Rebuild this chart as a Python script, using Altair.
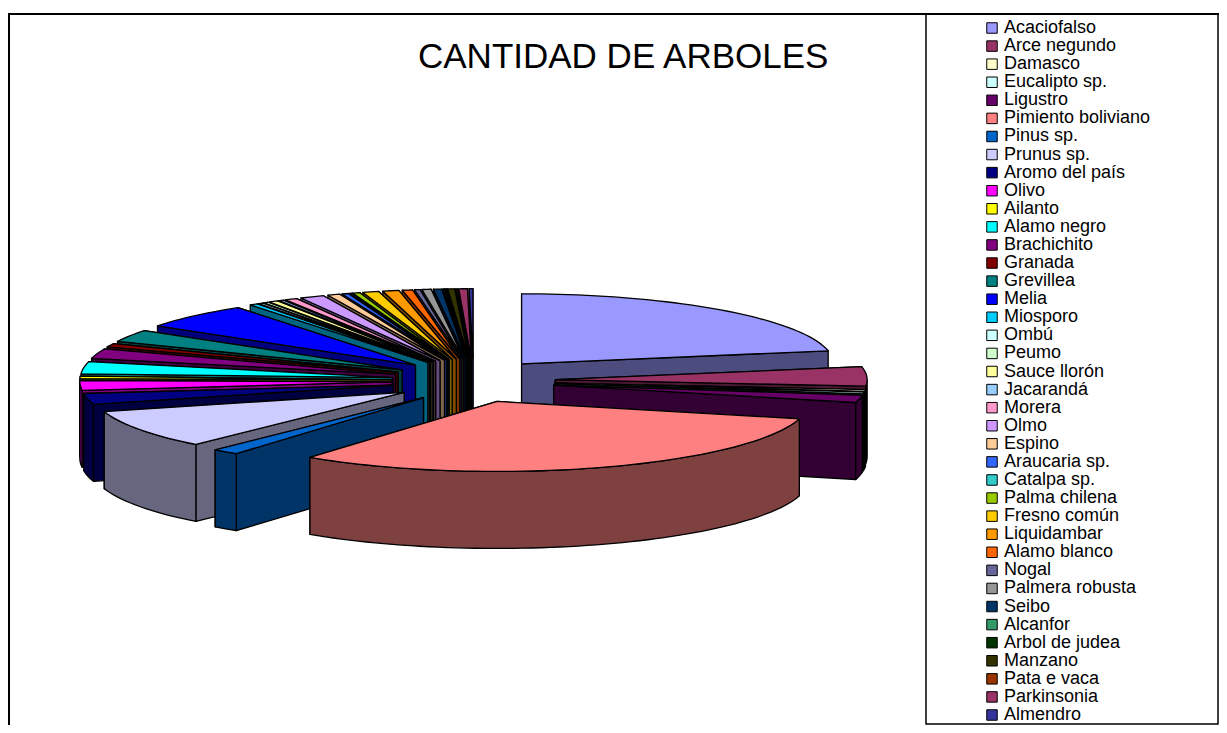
import math
import altair as alt
import pandas as pd

especies = ["Acaciofalso","Arce negundo","Damasco","Eucalipto sp.","Ligustro","Pimiento boliviano","Pinus sp.","Prunus sp.",
            "Aromo del país","Olivo","Ailanto","Alamo negro","Brachichito","Granada","Grevillea","Melia","Miosporo","Ombú",
            "Peumo","Sauce llorón","Jacarandá","Morera","Olmo","Espino","Araucaria sp.","Catalpa sp.","Palma chilena",
            "Fresno común","Liquidambar","Alamo blanco","Nogal","Palmera robusta","Seibo","Alcanfor","Arbol de judea",
            "Manzano","Pata e vaca","Parkinsonia","Almendro"]
cantidad = [21.94,4.44,0.42,0.42,1.67,31.11,1.39,8.89,2.5,2.22,0.56,2.78,2.22,0.83,2.78,5.83,0.42,0.25,
            0.25,0.47,0.25,0.64,1.25,0.64,0.33,0.11,0.39,0.83,0.83,0.53,0.28,0.47,0.42,0.08,0.08,0.36,0.08,0.44,0.2]
colores = ["#9999FF","#993366","#FFFFCC","#CCFFFF","#660066","#FF8080","#0066CC","#CCCCFF","#000080","#FF00FF","#FFFF00",
           "#00FFFF","#800080","#800000","#008080","#0000FF","#00CCFF","#CCFFFF","#CCFFCC","#FFFF99","#99CCFF","#FF99CC",
           "#CC99FF","#FFCC99","#3366FF","#33CCCC","#99CC00","#FFCC00","#FF9900","#FF6600","#666699","#969696","#003366",
           "#339966","#003300","#333300","#993300","#993366","#333399"]

W, H = 1211, 717
CX, CY, RX, RY = 465.5, 372.7, 312.0, 70.0
EX, EY, DEPTH = 0.262, 0.314, 77 / 70
# slight sideways correction of the two largest and the narrow near slices (in radii)
AJUSTE = {"Acaciofalso": -0.013, "Pimiento boliviano": -0.011, "Pinus sp.": 0.006}


def dark(c):
    v = [int(c[i:i + 2], 16) // 2 for i in (1, 3, 5)]
    return "#%02x%02x%02x" % tuple(v)


total = sum(cantidad)
slices, acc = [], 0.0
for n, v, c in zip(especies, cantidad, colores):
    a0 = acc / total * 2 * math.pi
    acc += v
    a1 = acc / total * 2 * math.pi
    slices.append((n, a0, a1, c))

rows = []
gid = 0


def add(poly, fill):
    global gid
    gid += 1
    for i, (x, y) in enumerate(poly + poly[:1]):
        rows.append({"g": gid, "i": i, "x": x, "y": y, "fill": fill})


for n, a0, a1, c in sorted(slices, key=lambda s: -math.cos((s[1] + s[2]) / 2)):
    m = (a0 + a1) / 2
    dx, dy = EX * math.sin(m) + AJUSTE.get(n, 0), EY * math.cos(m)
    steps = max(2, int((a1 - a0) / 0.03))
    ang = [a0 + (a1 - a0) * k / steps for k in range(steps + 1)]
    pt = lambda a: (dx + math.sin(a), dy + math.cos(a))
    arc = [pt(a) for a in ang]
    apex = (dx, dy)
    low = lambda p: (p[0], p[1] - DEPTH)
    side = dark(c)
    # the radial wall further from the viewer goes first
    ends = sorted([arc[0], arc[-1]], key=lambda p: -p[1])
    for p in ends:
        add([apex, p, low(p), low(apex)], side)
    # the outer wall only shows on the near half of the rim
    r0, r1 = max(a0, math.pi / 2), min(a1, 3 * math.pi / 2)
    if r1 > r0:
        rim = [pt(r0 + (r1 - r0) * k / steps) for k in range(steps + 1)]
        add(rim + [low(p) for p in reversed(rim)], side)
    add([apex] + arc, c)

df = pd.DataFrame(rows)
xs = alt.Scale(domain=[-CX / RX, (W - CX) / RX], range=[0, W], nice=False, zero=False)
ys = alt.Scale(domain=[(CY - H) / RY, CY / RY], range=[H, 0], nice=False, zero=False)

pie = alt.Chart(df).mark_line(strokeWidth=1.3, stroke="black", strokeJoin="round", interpolate="linear").encode(
    x=alt.X("x:Q", scale=xs, axis=None),
    y=alt.Y("y:Q", scale=ys, axis=None),
    detail="g:N",
    order="i:Q",
    fill=alt.Fill("fill:N", scale=None),
)

one = pd.DataFrame({"k": [0]})
box = alt.Chart(one).mark_rect(fill="white", stroke="black", strokeWidth=1.5).encode(
    x=alt.value(918), x2=alt.value(1210), y=alt.value(6), y2=alt.value(716))
top = alt.Chart(one).mark_rule(color="black", strokeWidth=2).encode(
    x=alt.value(0), x2=alt.value(W), y=alt.value(6))
left = alt.Chart(one).mark_rule(color="black", strokeWidth=2).encode(
    x=alt.value(1), y=alt.value(6), y2=alt.value(H))
frame = alt.layer(pie, box, top, left)

ley = pd.DataFrame({"especie": especies})
fila = alt.Y("especie:N", scale=alt.Scale(type="point", domain=especies, range=[20, 707], padding=0), axis=None)
swatch = alt.Chart(ley).mark_square(size=110, stroke="black", strokeWidth=1, opacity=1).encode(
    x=alt.value(984), y=fila,
    color=alt.Color("especie:N", scale=alt.Scale(domain=especies, range=colores), legend=None),
)
etiqueta = alt.Chart(ley).mark_text(font="Liberation Sans", fontSize=18, align="left", baseline="middle",
                                    color="black").encode(
    x=alt.value(996), y=fila, text="especie:N",
)
titulo = alt.Chart(pd.DataFrame({"t": ["CANTIDAD DE ARBOLES"]})).mark_text(
    font="Liberation Sans", fontSize=35, align="left", baseline="alphabetic", color="black").encode(
    x=alt.value(410), y=alt.value(60), text="t:N")

chart = alt.layer(frame, swatch, etiqueta, titulo).resolve_scale(y="independent", x="independent").properties(
    width=W, height=H, padding=0, autosize=alt.AutoSizeParams(type="none"),
).configure_view(stroke=None)

chart.save("out.html", embed_options={"renderer": "svg", "actions": False})
